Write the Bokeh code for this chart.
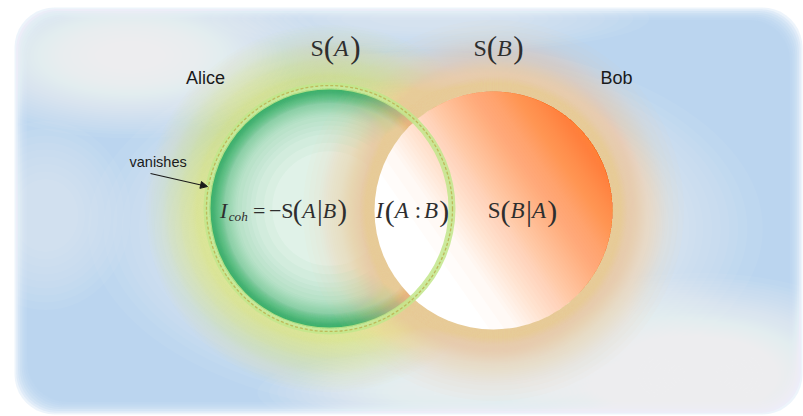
import math
import numpy as np
from bokeh.plotting import figure
from bokeh.models import Range1d, Arrow, NormalHead
from bokeh.core.properties import value
from bokeh.embed import file_html
from bokeh.resources import INLINE

# ---------------- data ----------------
set_names = ["Alice", "Bob"]
set_cx = [329, 493]          # centres of the two entropy discs
set_cy = [208, 210]
set_r = [123, 119]           # radii
note_text = "vanishes"

# ---------------- figure (data units == page pixels) ----------------
p = figure(width=803, height=416, x_range=Range1d(0, 803), y_range=Range1d(416, 0),
           output_backend="svg", toolbar_location=None, min_border=0,
           x_axis_location=None, y_axis_location=None)
p.grid.visible = False
p.outline_line_color = None
p.background_fill_color = "white"
p.border_fill_color = "white"


def rrect(x0, y0, x1, y1, rad, n=10):
    xs, ys = [], []
    corners = [(x1 - rad, y0 + rad, -90, 0), (x1 - rad, y1 - rad, 0, 90),
               (x0 + rad, y1 - rad, 90, 180), (x0 + rad, y0 + rad, 180, 270)]
    for cx, cy, a0, a1 in corners:
        for k in range(n + 1):
            a = math.radians(a0 + (a1 - a0) * k / n)
            xs.append(cx + rad * math.cos(a))
            ys.append(cy + rad * math.sin(a))
    return xs, ys


def layer_radii(profile, a):
    """profile: (position, cumulative alpha) pairs -> positions of equal-alpha layers."""
    rs = np.array([q[0] for q in profile], float)
    ns = np.array([math.log(1 - min(q[1], 0.995)) / math.log(1 - a) for q in profile])
    order = np.argsort(ns)
    ns, rs = ns[order], rs[order]
    nmax = int(ns.max())
    return [float(np.interp(j - 0.5, ns, rs)) for j in range(1, nmax + 1)]


def blob(cx, cy, rx, ry, color, amax, a=0.05):
    prof = [(0.0, amax), (0.35, amax * 0.9), (0.6, amax * 0.6), (0.8, amax * 0.3),
            (0.93, amax * 0.08), (1.0, 0.0)]
    ts = layer_radii(prof, a)
    p.ellipse(x=[cx] * len(ts), y=[cy] * len(ts), width=[2 * rx * t for t in ts],
              height=[2 * ry * t for t in ts], fill_color=color, fill_alpha=a, line_color=None)


def glow(cx, cy, prof, color, a=0.04):
    rs = layer_radii(prof, a)
    p.ellipse(x=[cx] * len(rs), y=[cy] * len(rs), width=[2 * r for r in rs],
              height=[2 * r for r in rs], fill_color=color, fill_alpha=a, line_color=None)


def ring(cx, cy, r_out, prof, color, a=0.04):
    rs = layer_radii(prof, a)
    p.annulus(x=[cx] * len(rs), y=[cy] * len(rs), inner_radius=rs,
              outer_radius=[r_out] * len(rs), fill_color=color, fill_alpha=a, line_color=None)


def linear_shade(cx, cy, r, ang_deg, prof, color, a=0.05, n=48):
    """disc shaded along direction ang_deg (counter-clockwise, screen up = +)."""
    ss = layer_radii(prof, a)
    th = math.radians(-ang_deg)  # image y points down
    xs_all, ys_all = [], []
    for s in ss:
        s = max(-0.999, min(0.999, s))
        al = math.acos(s)
        phis = np.linspace(th - al, th + al, n)
        xs_all.append(list(cx + r * np.cos(phis)))
        ys_all.append(list(cy + r * np.sin(phis)))
    p.patches(xs_all, ys_all, fill_color=color, fill_alpha=a, line_color=None)


# ---- background panel ----
BLUE = "#b5d2ee"
for k in range(8):
    ins = k * 1.8
    xs, ys = rrect(14 + ins, 7 + ins, 802 - ins, 414 - ins, 40)
    p.patch(xs, ys, fill_color=BLUE, fill_alpha=0.24, line_color=None)

blob(425, 228, 345, 190, "white", 0.97)
blob(700, 375, 210, 105, "white", 0.92)
blob(130, 55, 200, 85, "white", 0.85)
blob(45, 215, 90, 100, "white", 0.4)
blob(430, 18, 230, 35, "white", 0.45)
blob(470, 392, 220, 45, "white", 0.7)

gx, gy, gr = set_cx[0], set_cy[0], set_r[0]
bx, by, br = set_cx[1], set_cy[1], set_r[1]

# ---- Alice glow ----
glow(gx, gy, [(gr, 0.95), (gr + 14, 0.8), (gr + 28, 0.55), (gr + 44, 0.25), (gr + 62, 0.0)],
     "#d9eca2")

# ---- Alice disc ----
p.ellipse(x=[gx], y=[gy], width=[2 * gr], height=[2 * gr], fill_color="#e0f2e8", line_color=None)
ring(gx, gy, gr - 3, [(gr - 3, 0.9), (gr - 10, 0.75), (gr - 18, 0.47), (gr - 30, 0.24),
                      (gr - 48, 0.1), (gr - 70, 0.0)], "#2db26a")

# ---- Bob glow (also tints Alice's right side) ----
glow(bx, by, [(br, 0.95), (br + 15, 0.72), (br + 35, 0.42), (br + 55, 0.14), (br + 74, 0.0)],
     "#f5c4a0")

# ---- Bob disc: white, shaded orange toward the upper right ----
p.ellipse(x=[bx], y=[by], width=[2 * br], height=[2 * br], fill_color="white", line_color=None)
linear_shade(bx, by, br, 35, [(-0.65, 0.0), (-0.4, 0.06), (0.0, 0.32), (0.55, 0.66),
                               (0.8, 0.8), (1.0, 0.88)], "#f68d36", a=0.025)

# ---- Alice outline band + dashes on top ----
p.annulus(x=[gx], y=[gy], inner_radius=[gr - 4], outer_radius=[gr + 3], fill_color="#c2e68b",
          fill_alpha=0.85, line_color=None)
p.ellipse(x=[gx], y=[gy], width=[2 * gr], height=[2 * gr], fill_color=None,
          line_color="#bdb95a", line_width=1.3, line_dash="3 2")

# ---- texts (y = vertical centre of the text) ----
SANS = "Liberation Sans"
SERIF = "Liberation Serif"
p.text(x=[205, 616], y=[77, 77], text=set_names, text_font=value(SANS), text_font_size="18px",
       text_color="#1a1a1a", text_align="center", text_baseline="middle")
p.text(x=[129], y=[161], text=[note_text], text_font=value(SANS), text_font_size="14.5px",
       text_color="#1a1a1a", text_align="left", text_baseline="middle")
p.add_layout(Arrow(end=NormalHead(size=7, fill_color="#1a1a1a", line_color="#1a1a1a"),
                   x_start=150, y_start=173, x_end=207, y_end=186,
                   line_color="#1a1a1a", line_width=1.2))

WREG = {"S": 0.556, "(": 0.333, ")": 0.333, "|": 0.2, ":": 0.278, "=": 0.564,
        "\u2212": 0.564, " ": 0.25, "\u2009": 0.16}
WIT = {"A": 0.611, "B": 0.611, "I": 0.333, "c": 0.444, "o": 0.5, "h": 0.5}
PF = 1.3  # delimiter scale


def math_label(xc, yc, runs, size):
    widths = []
    for txt, it, f, dy in runs:
        tab = WIT if it else WREG
        w = sum(tab.get(ch, 0.5) for ch in txt) * size * f
        if it:
            w += 0.06 * size * f
        widths.append(w)
    x = xc - sum(widths) / 2
    for (txt, it, f, dy), w in zip(runs, widths):
        p.text(x=[x], y=[yc + dy], text=[txt], text_font=value(SERIF),
               text_font_size=f"{size * f:.1f}px", text_font_style="italic" if it else "normal",
               text_color="#2e2e2e", text_align="left", text_baseline="middle")
        x += w


def S(letter):
    return [("S", False, 1, 0), ("(", False, PF, 0), (letter, True, 1, 0), (")", False, PF, 0)]


math_label(335, 47, S("A"), 24)
math_label(498, 47, S("B"), 24)
math_label(283, 210, [("I", True, 1, 0), ("coh", True, 0.6, 6), ("\u2009=", False, 1, 0),
                      ("\u2009\u2212S", False, 1, 0), ("(", False, PF, 0), ("A", True, 1, 0),
                      ("|", False, PF, 0), ("B", True, 1, 0), (")", False, PF, 0)], 22)
math_label(412, 210, [("I", True, 1, 0), ("(", False, PF, 0), ("A", True, 1, 0),
                      ("\u2009:\u2009", False, 1, 0), ("B", True, 1, 0), (")", False, PF, 0)], 23)
math_label(522, 210, [("S", False, 1, 0), ("(", False, PF, 0), ("B", True, 1, 0),
                      ("|", False, PF, 0), ("A", True, 1, 0), (")", False, PF, 0)], 23)

open("out.html", "w").write(file_html(p, INLINE))
